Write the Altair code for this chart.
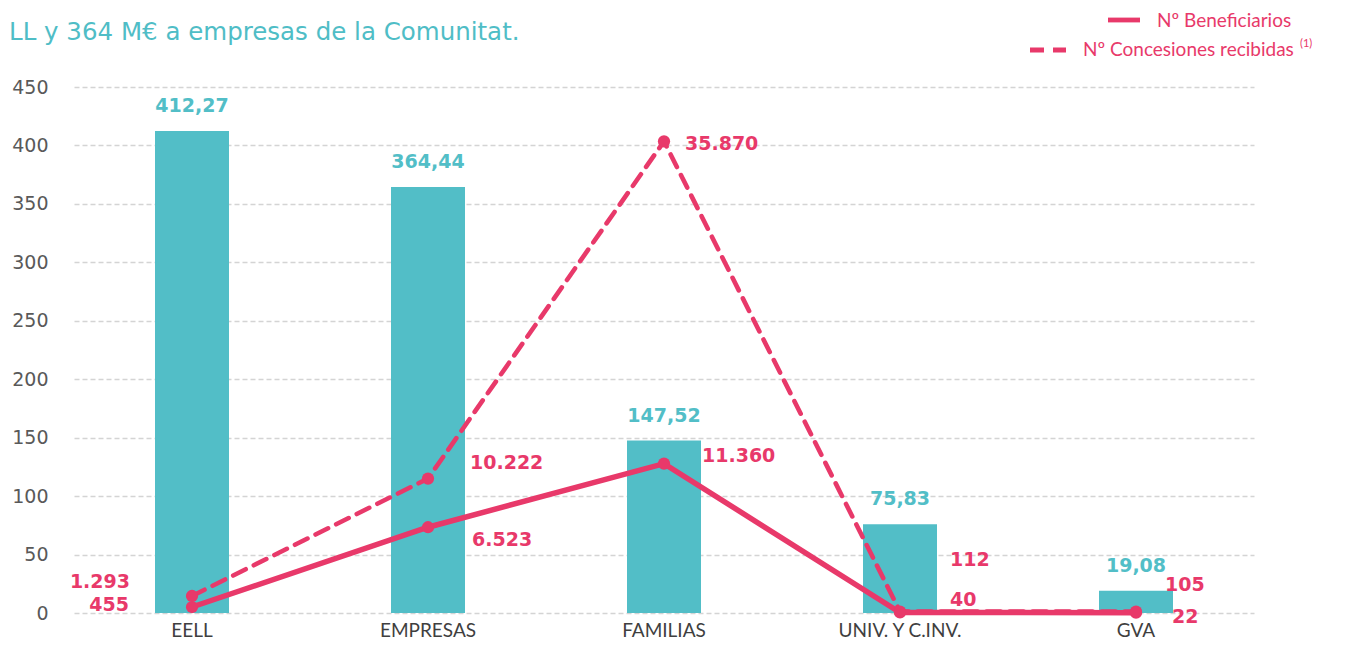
import altair as alt
import pandas as pd

categories = ["EELL", "EMPRESAS", "FAMILIAS", "UNIV. Y C.INV.", "GVA"]
importe = [412.27, 364.44, 147.52, 75.83, 19.08]
importe_labels = ["412,27", "364,44", "147,52", "75,83", "19,08"]
beneficiarios = [455, 6523, 11360, 40, 22]
benef_labels = ["455", "6.523", "11.360", "40", "22"]
concesiones = [1293, 10222, 35870, 112, 105]
conc_labels = ["1.293", "10.222", "35.870", "112", "105"]
left_ticks = [0, 50, 100, 150, 200, 250, 300, 350, 400, 450]
right_ticks = [0, 5000, 10000, 15000, 20000, 25000, 30000, 35000, 40000]
serie_names = ["Nº Beneficiarios", "Nº Concesiones recibidas"]

TEAL = "#52BEC7"
PINK = "#E8396A"
W, H = 1180, 526

bars_df = pd.DataFrame({"cat": categories, "importe": importe, "label": importe_labels})
lines_df = pd.DataFrame({
    "cat": categories * 2,
    "serie": [serie_names[0]] * 5 + [serie_names[1]] * 5,
    "value": beneficiarios + concesiones,
    "label": benef_labels + conc_labels,
})

x_enc = alt.X("cat:N", sort=categories,
              scale=alt.Scale(paddingInner=0, paddingOuter=0),
              axis=alt.Axis(title=None, labelAngle=0, ticks=False, domain=False,
                            labelFont="Lato", labelFontSize=19, labelColor="#3F3F3F",
                            labelPadding=8))

base_bar = alt.Chart(bars_df)
bars = base_bar.mark_bar(size=74, color=TEAL).encode(
    x=x_enc,
    y=alt.Y("importe:Q", scale=alt.Scale(domain=[0, 450], nice=False),
            axis=alt.Axis(values=left_ticks, grid=True, gridDash=[5, 3], gridColor="#D4D4D4",
                          gridWidth=1.6, domain=False, ticks=False, labelPadding=26,
                          labelFont="DejaVu Sans", labelFontSize=19, labelColor="#595959",
                          title=None, orient="left")),
)
bar_text = base_bar.mark_text(font="DejaVu Sans", fontSize=19, fontWeight="bold",
                              color=TEAL, dy=-25).encode(
    x=alt.X("cat:N", sort=categories),
    y=alt.Y("importe:Q"),
    text="label:N",
)
bar_layer = alt.layer(bars, bar_text)

base_line = alt.Chart(lines_df)
y_right = alt.Y("value:Q", scale=alt.Scale(domain=[0, 40000], nice=False),
                axis=alt.Axis(values=right_ticks, grid=False, domain=False, ticks=False,
                              labelPadding=26, labelFont="DejaVu Sans", labelFontSize=19,
                              labelColor="#595959", title=None, orient="right"))

dashed = base_line.transform_filter(alt.datum.serie == serie_names[1]).mark_line(
    color=PINK, strokeWidth=4.6, strokeDash=[14, 9], strokeCap="round").encode(
    x=alt.X("cat:N", sort=categories), y=y_right)
solid = base_line.transform_filter(alt.datum.serie == serie_names[0]).mark_line(
    color=PINK, strokeWidth=5.5).encode(
    x=alt.X("cat:N", sort=categories), y=alt.Y("value:Q", axis=None))
points = base_line.mark_circle(color=PINK, size=150, opacity=1).encode(
    x=alt.X("cat:N", sort=categories), y=alt.Y("value:Q", axis=None))

# label offsets (style only): (serie index, category, align, dx, dy)
label_style = [
    (0, "EELL", "right", -63, -2),
    (1, "EELL", "right", -62, -14),
    (0, "EMPRESAS", "left", 44, 13),
    (1, "EMPRESAS", "left", 42, -16),
    (0, "FAMILIAS", "left", 38, -8),
    (1, "FAMILIAS", "left", 21, 3),
    (0, "UNIV. Y C.INV.", "left", 50, -12),
    (1, "UNIV. Y C.INV.", "left", 50, -52),
    (0, "GVA", "left", 36, 4),
    (1, "GVA", "left", 29, -27),
]
label_layers = []
for si, cat, align, dx, dy in label_style:
    label_layers.append(
        base_line.transform_filter(
            (alt.datum.serie == serie_names[si]) & (alt.datum.cat == cat)
        ).mark_text(font="DejaVu Sans", fontSize=19, fontWeight="bold", color=PINK,
                    align=align, dx=dx, dy=dy).encode(
            x=alt.X("cat:N", sort=categories), y=alt.Y("value:Q", axis=None), text="label:N")
    )

line_layer = alt.layer(dashed, solid, points, *label_layers)

# Legend (manual, top right)
leg_df = pd.DataFrame({"t": [0]})
leg_solid = alt.Chart(leg_df).mark_rule(color=PINK, strokeWidth=4.8).encode(
    x=alt.value(1034), x2=alt.value(1066), y=alt.value(-67))
leg_dash = alt.Chart(leg_df).mark_rule(color=PINK, strokeWidth=4.8, strokeDash=[14, 9]).encode(
    x=alt.value(956), x2=alt.value(992), y=alt.value(-37))
leg_t1 = alt.Chart(leg_df).mark_text(font="Lato", fontSize=19, color=PINK, align="left").encode(
    x=alt.value(1083), y=alt.value(-66), text=alt.value(serie_names[0]))
leg_t2 = alt.Chart(leg_df).mark_text(font="Lato", fontSize=19, color=PINK, align="left").encode(
    x=alt.value(1009), y=alt.value(-37), text=alt.value(serie_names[1]))
leg_sup = alt.Chart(leg_df).mark_text(font="Lato", fontSize=11, color=PINK, align="left").encode(
    x=alt.value(1226), y=alt.value(-43), text=alt.value("(1)"))
title_t = alt.Chart(leg_df).mark_text(font="DejaVu Sans", fontSize=24.5, color="#4FBDC6",
                                      align="left").encode(
    x=alt.value(-65), y=alt.value(-54), text=alt.value("LL y 364 M€ a empresas de la Comunitat."))

chart = alt.layer(bar_layer, line_layer, leg_solid, leg_dash, leg_t1, leg_t2, leg_sup, title_t
                  ).resolve_scale(y="independent").properties(
    width=W, height=H,
    padding={"left": 66, "top": 79, "right": 84, "bottom": 33},
    autosize=alt.AutoSizeParams(type="none"),
).configure_view(stroke=None)

chart.save("out.html", embed_options={"renderer": "svg", "actions": False})
